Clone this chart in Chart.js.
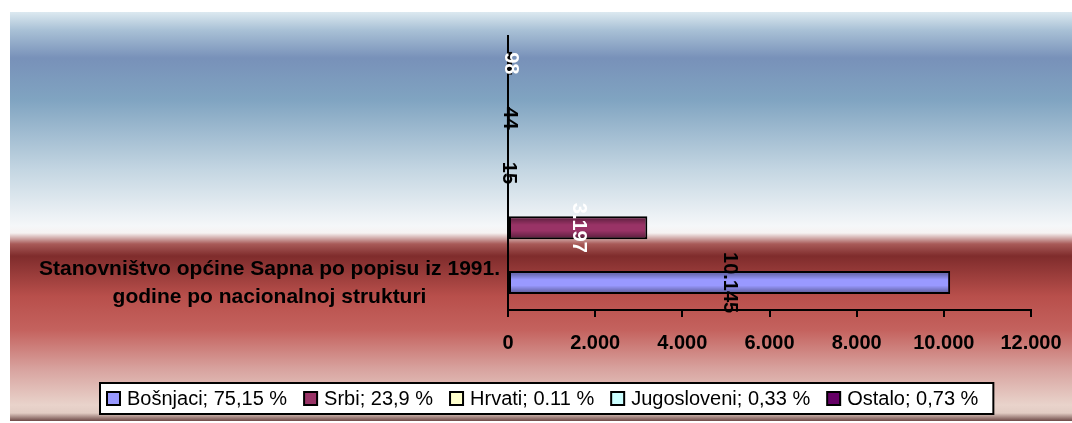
<!DOCTYPE html>
<html>
<head>
<meta charset="utf-8">
<script src="https://cdn.jsdelivr.net/npm/chart.js@4.4.0/dist/chart.umd.min.js"></script>
<style>
  html, body { margin: 0; padding: 0; background: #fff; }
  #wrap { width: 1072px; height: 423px; }
</style>
</head>
<body>
<div id="wrap"><canvas id="chart"></canvas></div>
<script>
const categories = [['Stanovništvo općine Sapna po popisu iz 1991.', 'godine po nacionalnoj strukturi']];
const seriesNames = ['Bošnjaci; 75,15 %', 'Srbi; 23,9 %', 'Hrvati; 0.11 %', 'Jugosloveni; 0,33 %', 'Ostalo; 0,73 %'];
const seriesValues = [10145, 3197, 15, 44, 98];
const seriesColors = ['#9999ff', '#993366', '#ffffcc', '#ccffff', '#660066'];
const valueLabelColors = ['#000000', '#ffffff', '#000000', '#000000', '#ffffff'];
const xTicks = [0, 2000, 4000, 6000, 8000, 10000, 12000];

const FONT = "'Liberation Sans', Arial, sans-serif";
const fmt = v => String(v).replace(/\B(?=(\d{3})+(?!\d))/g, '.');

// first series sits at the bottom, so feed datasets in reverse
const datasets = seriesNames.map((name, i) => ({
  label: name,
  data: [seriesValues[i]],
  backgroundColor: seriesColors[i],
  borderColor: '#000',
  borderWidth: 2,
  borderSkipped: false,
  labelColor: valueLabelColors[i]
})).reverse();

const bgPlugin = {
  id: 'bg',
  beforeDraw(chart) {
    const ctx = chart.ctx;
    ctx.save();
    ctx.fillStyle = '#fff';
    ctx.fillRect(0, 0, chart.width, chart.height);
    const y0 = 12, y1 = 421, h = y1 - y0;
    const g = ctx.createLinearGradient(0, y0, 0, y1);
    const stops = [
      [12, '#dce9f0'], [30, '#a9c1d6'], [58, '#7891b9'], [100, '#80a4c1'],
      [170, '#c4d6e2'], [226, '#f5f7f9'], [233, '#f6f2f2'], [244, '#a85a58'],
      [256, '#7f2c2c'], [296, '#b84f4b'], [330, '#c4625e'], [370, '#d8a4a0'],
      [405, '#e9d3cb'], [413, '#e2ccc4'], [421, '#6e4a48']
    ];
    stops.forEach(([y, c]) => g.addColorStop((y - y0) / h, c));
    ctx.fillStyle = g;
    ctx.fillRect(10, y0, chart.width - 10, h);
    ctx.restore();
  }
};

const barDecor = {
  id: 'barDecor',
  afterDatasetsDraw(chart) {
    const ctx = chart.ctx;
    chart.data.datasets.forEach((ds, di) => {
      const meta = chart.getDatasetMeta(di);
      meta.data.forEach((bar, j) => {
        const p = bar.getProps(['x', 'y', 'base', 'height'], true);
        const left = Math.min(p.x, p.base) + 2, right = Math.max(p.x, p.base) - 2;
        const top = p.y - p.height / 2 + 2, bottom = p.y + p.height / 2 - 2;
        ctx.save();
        if (right > left) {
          const g = ctx.createLinearGradient(0, top, 0, bottom);
          g.addColorStop(0, 'rgba(0,0,0,0.35)');
          g.addColorStop(0.35, 'rgba(0,0,0,0)');
          g.addColorStop(0.65, 'rgba(0,0,0,0)');
          g.addColorStop(1, 'rgba(0,0,0,0.35)');
          ctx.fillStyle = g;
          ctx.fillRect(left, top, right - left, bottom - top);
        }
        ctx.translate((p.x + p.base) / 2, p.y);
        ctx.rotate(Math.PI / 2);
        ctx.font = 'bold 20px ' + FONT;
        ctx.fillStyle = ds.labelColor;
        ctx.textAlign = 'center';
        ctx.textBaseline = 'middle';
        ctx.fillText(fmt(ds.data[j]), 0, 0);
        ctx.restore();
      });
    });
  }
};

// legend drawn by hand: boxed row under the axis
const legendBox = {
  id: 'legendBox',
  afterDraw(chart) {
    const ctx = chart.ctx;
    ctx.save();
    ctx.font = '20px ' + FONT;
    const sq = 13, gapText = 7, gapItem = 17;
    let width = 0;
    seriesNames.forEach((n, i) => {
      width += sq + gapText + ctx.measureText(n).width + (i < seriesNames.length - 1 ? gapItem : 0);
    });
    const bx = 100, by = 383, bh = 31, padL = 7, padR = 15;
    ctx.fillStyle = '#fff';
    ctx.fillRect(bx, by, width + padL + padR, bh);
    ctx.strokeStyle = '#000';
    ctx.lineWidth = 2;
    ctx.strokeRect(bx, by, width + padL + padR, bh);
    const cy = by + bh / 2;
    let x = bx + padL;
    seriesNames.forEach((n, i) => {
      ctx.fillStyle = seriesColors[i];
      ctx.fillRect(x, cy - sq / 2, sq, sq);
      ctx.lineWidth = 2;
      ctx.strokeRect(x, cy - sq / 2, sq, sq);
      x += sq + gapText;
      ctx.fillStyle = '#000';
      ctx.textBaseline = 'middle';
      ctx.fillText(n, x, cy + 1);
      x += ctx.measureText(n).width + gapItem;
    });
    ctx.restore();
  }
};

new Chart(document.getElementById('chart'), {
  type: 'bar',
  data: { labels: categories, datasets: datasets },
  options: {
    indexAxis: 'y',
    responsive: true,
    maintainAspectRatio: false,
    animation: false,
    categoryPercentage: 1,
    barPercentage: 0.42,
    layout: { padding: { left: 10, right: 41, top: 34, bottom: 0 } },
    plugins: { legend: { display: false }, tooltip: { enabled: false } },
    scales: {
      x: {
        min: xTicks[0],
        max: xTicks[xTicks.length - 1],
        afterBuildTicks: s => { s.ticks = xTicks.map(v => ({ value: v })); },
        afterFit: s => { s.height = 113; s.paddingRight = 0; s.paddingLeft = 0; },
        grid: { drawOnChartArea: false, drawTicks: true, tickLength: 7, tickColor: '#000', lineWidth: 2 },
        border: { color: '#000', width: 2 },
        ticks: {
          padding: 14,
          color: '#000',
          font: { family: FONT, size: 20, weight: 'bold' },
          callback: v => fmt(v)
        }
      },
      y: {
        afterFit: s => { s.width = 498; },
        grid: { display: false, drawTicks: false },
        border: { color: '#000', width: 2 },
        ticks: {
          padding: 8,
          labelOffset: 110,
          crossAlign: 'center',
          color: '#000',
          font: { family: FONT, size: 21, weight: 'bold', lineHeight: 1.33 }
        }
      }
    }
  },
  plugins: [bgPlugin, barDecor, legendBox]
});
</script>
</body>
</html>
